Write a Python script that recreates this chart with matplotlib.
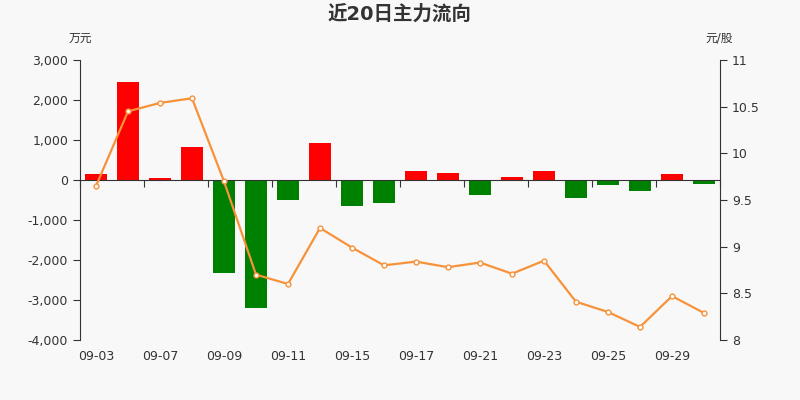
import matplotlib
matplotlib.use("Agg")
import matplotlib.pyplot as plt
import matplotlib.transforms as mtransforms
from matplotlib.ticker import FuncFormatter
import numpy as np

plt.rcParams['font.family'] = ['DejaVu Sans', 'Noto Sans CJK SC']

dates = ["09-03", "09-04", "09-07", "09-08", "09-09", "09-10", "09-11", "09-14",
         "09-15", "09-16", "09-17", "09-18", "09-21", "09-22", "09-23", "09-24",
         "09-25", "09-28", "09-29", "09-30"]
flow = [160, 2440, 50, 830, -2320, -3190, -510, 920, -640, -580,
        215, 185, -375, 75, 215, -440, -135, -265, 150, -90]
price = [9.65, 10.45, 10.54, 10.59, 9.70, 8.70, 8.60, 9.20, 8.99, 8.80,
         8.84, 8.78, 8.83, 8.71, 8.85, 8.41, 8.30, 8.14, 8.47, 8.29]

bg = "#f8f8f8"
txt = "#333333"
fig = plt.figure(figsize=(8, 4), dpi=100, facecolor=bg)
ax = fig.add_axes([0.1, 0.15, 0.8, 0.7])
ax.set_facecolor(bg)

x = np.arange(len(dates))
colors = ["#ff0000" if v >= 0 else "#008000" for v in flow]
ax.bar(x, flow, width=0.68, color=colors, zorder=2)
ax.set_xlim(-0.5, len(dates) - 0.5)
ax.set_ylim(-4000, 3000)
ax.set_yticks(np.arange(-4000, 3001, 1000))
ax.yaxis.set_major_formatter(FuncFormatter(lambda v, p: f"{int(v):,}"))

for s in ["top", "right"]:
    ax.spines[s].set_visible(False)
ax.spines["bottom"].set_position(("data", 0))
ax.spines["bottom"].set_color(txt)
ax.spines["left"].set_color(txt)
ax.set_xticks(np.arange(-0.5, len(dates), 2))
ax.tick_params(axis="x", length=5, color=txt, labelbottom=False)
ax.tick_params(axis="y", length=5, color=txt, labelcolor=txt, labelsize=9)

trans = mtransforms.blended_transform_factory(ax.transData, ax.transAxes)
for i in range(0, len(dates), 2):
    ax.text(x[i], -0.035, dates[i], transform=trans, ha="center", va="top",
            fontsize=9, color=txt)

ax2 = ax.twinx()
ax2.plot(x, price, color="#f7923a", lw=1.6, marker="o", ms=3.5,
         mfc="white", mec="#f7923a", mew=1, zorder=3)
ax2.set_ylim(8, 11)
ax2.set_yticks([8, 8.5, 9, 9.5, 10, 10.5, 11])
ax2.yaxis.set_major_formatter(FuncFormatter(lambda v, p: f"{v:g}"))
for s in ["top", "left", "bottom"]:
    ax2.spines[s].set_visible(False)
ax2.spines["right"].set_color(txt)
ax2.tick_params(axis="y", length=5, color=txt, labelcolor=txt, labelsize=9)

fig.text(0.5, 0.965, "近20日主力流向", ha="center", va="center", fontsize=14,
         fontweight="bold", color=txt)
fig.text(0.1, 0.905, "万元", ha="center", va="center", fontsize=8.5, color=txt)
fig.text(0.899, 0.905, "元/股", ha="center", va="center", fontsize=8.5, color=txt)

fig.savefig("out.png", dpi=100, facecolor=bg)
